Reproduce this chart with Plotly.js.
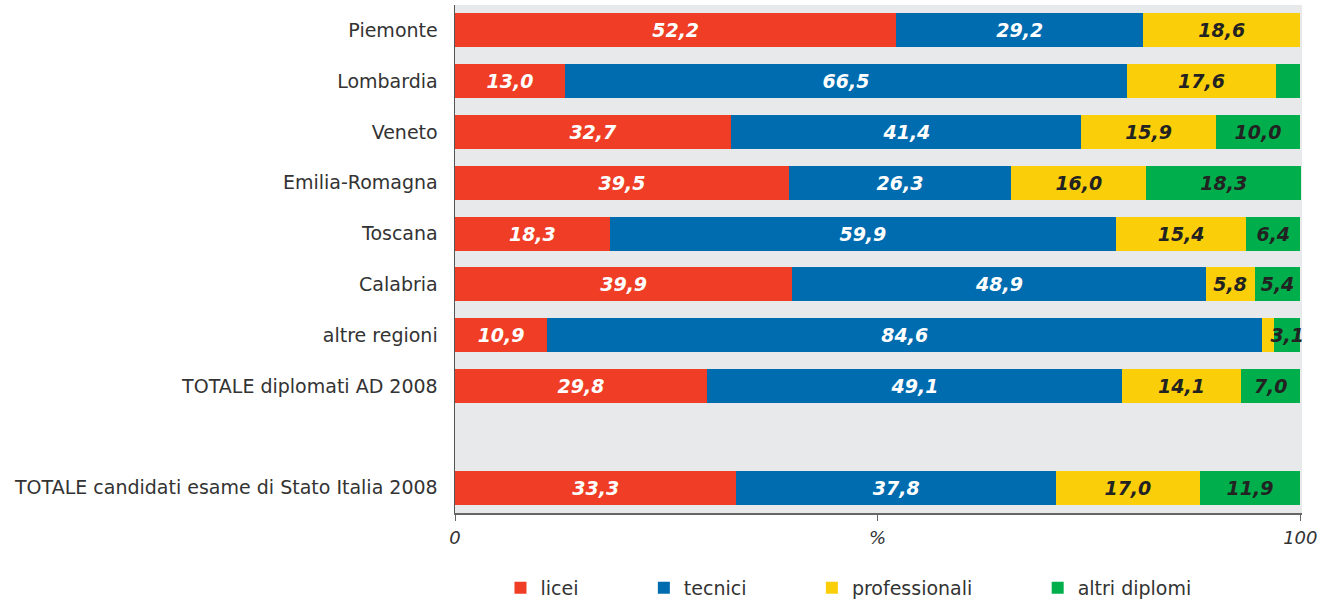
<!DOCTYPE html>
<html>
<head>
<meta charset="utf-8">
<script src="https://cdn.plot.ly/plotly-3.0.1.min.js"></script>
<style>html,body{margin:0;padding:0;background:#fff;}#chart{width:1324px;height:602px;}</style>
</head>
<body>
<div id="chart"></div>
<script>
const categories = ['Piemonte','Lombardia','Veneto','Emilia-Romagna','Toscana','Calabria','altre regioni','TOTALE diplomati AD 2008',' ','TOTALE candidati esame di Stato Italia 2008'];
const licei =        [52.2, 13.0, 32.7, 39.5, 18.3, 39.9, 10.9, 29.8, null, 33.3];
const tecnici =      [29.2, 66.5, 41.4, 26.3, 59.9, 48.9, 84.6, 49.1, null, 37.8];
const professionali =[18.6, 17.6, 15.9, 16.0, 15.4,  5.8,  1.4, 14.1, null, 17.0];
const altri =        [ 0.0,  2.9, 10.0, 18.3,  6.4,  5.4,  3.1,  7.0, null, 11.9];
const seriesNames = ['licei','tecnici','professionali','altri diplomi'];
const xTickVals = [0, 50, 100];
const xTickText = ['0', '%', '100'];

const colors = ['#EF3E25', '#006CB0', '#FACF0A', '#00AF4C'];
const textColors = ['#ffffff', '#ffffff', '#222222', '#222222'];
const pads = ['\u00a0'.repeat(10), '\u00a0'.repeat(10), '\u00a0'.repeat(10), ''];

function label(v) {
  if (v === null || v < 3) return '';
  return v.toFixed(1).replace('.', ',');
}

const allSeries = [licei, tecnici, professionali, altri];
const traces = allSeries.map((vals, i) => ({
  type: 'bar',
  orientation: 'h',
  name: seriesNames[i] + pads[i],
  y: categories,
  x: vals,
  text: vals.map(label),
  textposition: 'inside',
  insidetextanchor: 'middle',
  constraintext: 'none',
  textangle: 0,
  cliponaxis: false,
  textfont: {family: 'DejaVu Sans', size: 19, color: textColors[i], weight: 'bold', style: 'italic'},
  marker: {color: colors[i], line: {width: 0}},
  hoverinfo: 'skip'
}));

const layout = {
  width: 1324, height: 602,
  barmode: 'stack',
  bargap: 0.33,
  paper_bgcolor: '#ffffff',
  plot_bgcolor: '#E8E9EB',
  margin: {l: 455, r: 22, t: 5, b: 89, pad: 0, autoexpand: false},
  font: {family: 'DejaVu Sans', color: '#333333'},
  showlegend: true,
  legend: {
    orientation: 'h', xref: 'container', yref: 'container',
    x: 0.378, xanchor: 'left', y: 0.0233, yanchor: 'middle',
    font: {family: 'DejaVu Sans', size: 19, color: '#333333'},
    traceorder: 'normal', itemclick: false
  },
  xaxis: {
    range: [0, 100.2], fixedrange: true,
    tickvals: xTickVals, ticktext: xTickText,
    ticks: 'outside', ticklen: 6, tickcolor: '#666666', tickwidth: 1,
    showline: true, linecolor: '#666666', linewidth: 1.5,
    showgrid: false, zeroline: false,
    ticklabelstandoff: 2,
    tickfont: {family: 'DejaVu Sans', size: 18, color: '#333333', style: 'italic'}
  },
  yaxis: {
    type: 'category',
    categoryorder: 'array', categoryarray: categories,
    autorange: 'reversed', fixedrange: true,
    showline: true, linecolor: '#555555', linewidth: 1.5,
    ticks: '', showgrid: false, zeroline: false,
    ticklabelstandoff: 12,
    tickfont: {family: 'DejaVu Sans', size: 19, color: '#333333'}
  }
};

Plotly.newPlot('chart', traces, layout, {displayModeBar: false, staticPlot: true});
</script>
</body>
</html>
